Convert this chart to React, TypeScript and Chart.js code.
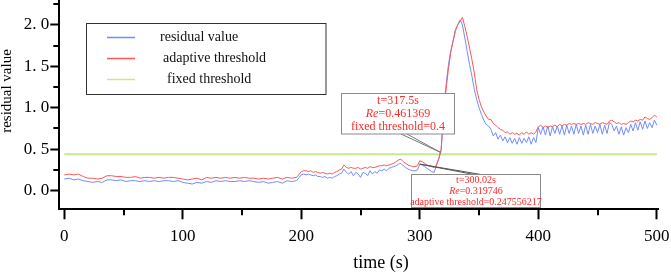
import React, { useEffect, useRef } from "react";
import { Chart, registerables } from "chart.js";

Chart.register(...registerables);

// ---- data (time in s) ----
const times = [
  0, 4, 8, 12, 16, 20, 24, 28, 32, 36,
  40, 44, 48, 52, 56, 60, 64, 68, 72, 76,
  80, 84, 88, 92, 96, 100, 104, 108, 112, 116,
  120, 124, 128, 132, 136, 140, 144, 148, 152, 156,
  160, 164, 168, 172, 176, 180, 184, 188, 192, 196,
  200, 202, 204, 206, 208, 210, 212, 214, 216, 218,
  220, 222, 224, 226, 228, 230, 232, 234, 236, 238,
  240, 242, 244, 246, 248, 250, 252, 254, 256, 258,
  260, 262, 264, 266, 268, 270, 272, 274, 276, 278,
  280, 282, 284, 286, 288, 290, 292, 294, 296, 298,
  300, 302, 304, 306, 308, 310, 312, 314, 316, 318,
  320, 322, 324, 326, 328, 330, 332, 334, 336, 338,
  340, 342, 344, 346, 348, 350, 352, 354, 356, 358,
  360, 362, 364, 366, 368, 370, 372, 374, 376, 378,
  380, 382, 384, 386, 388, 390, 392, 394, 396, 398,
  400, 402, 404, 406, 408, 410, 412, 414, 416, 418,
  420, 422, 424, 426, 428, 430, 432, 434, 436, 438,
  440, 442, 444, 446, 448, 450, 452, 454, 456, 458,
  460, 462, 464, 466, 468, 470, 472, 474, 476, 478,
  480, 482, 484, 486, 488, 490, 492, 494, 496, 498,
  500,
];

const residual = [
  0.14, 0.15, 0.13, 0.14, 0.12, 0.11, 0.10, 0.11, 0.10, 0.13,
  0.13, 0.12, 0.13, 0.11, 0.12, 0.12, 0.11, 0.12, 0.11, 0.12,
  0.11, 0.12, 0.12, 0.11, 0.12, 0.10, 0.09, 0.08, 0.10, 0.09,
  0.11, 0.10, 0.12, 0.11, 0.12, 0.11, 0.11, 0.12, 0.11, 0.12,
  0.11, 0.10, 0.11, 0.09, 0.10, 0.11, 0.09, 0.12, 0.11, 0.12,
  0.19, 0.20, 0.19, 0.20, 0.19, 0.18, 0.19, 0.17, 0.17, 0.16,
  0.17, 0.15, 0.16, 0.15, 0.17, 0.18, 0.20, 0.21, 0.26, 0.22,
  0.20, 0.23, 0.18, 0.22, 0.20, 0.16, 0.22, 0.21, 0.18, 0.24,
  0.20, 0.23, 0.21, 0.25, 0.24, 0.26, 0.24, 0.27, 0.28, 0.29,
  0.30, 0.32, 0.33, 0.30, 0.28, 0.26, 0.25, 0.24, 0.24, 0.25,
  0.32, 0.31, 0.29, 0.27, 0.25, 0.23, 0.22, 0.30, 0.38, 0.48,
  0.92, 1.25, 1.50, 1.68, 1.80, 1.92, 2.00, 2.06, 2.00, 1.84,
  1.68, 1.52, 1.38, 1.22, 1.10, 1.00, 0.92, 0.85, 0.80, 0.78,
  0.74, 0.66, 0.70, 0.62, 0.67, 0.60, 0.65, 0.58, 0.64, 0.57,
  0.63, 0.56, 0.64, 0.57, 0.63, 0.58, 0.65, 0.56, 0.64, 0.58,
  0.76, 0.68, 0.77, 0.67, 0.78, 0.66, 0.77, 0.69, 0.78, 0.68,
  0.78, 0.67, 0.79, 0.69, 0.78, 0.68, 0.80, 0.69, 0.78, 0.67,
  0.79, 0.68, 0.80, 0.69, 0.78, 0.70, 0.80, 0.68, 0.79, 0.69,
  0.82, 0.80, 0.72, 0.78, 0.68, 0.77, 0.67, 0.76, 0.70, 0.80,
  0.72, 0.82, 0.73, 0.83, 0.74, 0.84, 0.75, 0.82, 0.76, 0.85,
  0.79,
];

const adaptive = [
  0.19, 0.20, 0.19, 0.20, 0.17, 0.15, 0.15, 0.14, 0.15, 0.18,
  0.18, 0.17, 0.17, 0.16, 0.16, 0.17, 0.15, 0.16, 0.16, 0.15,
  0.16, 0.15, 0.16, 0.16, 0.15, 0.14, 0.13, 0.14, 0.15, 0.13,
  0.16, 0.15, 0.16, 0.15, 0.16, 0.15, 0.16, 0.15, 0.16, 0.15,
  0.15, 0.14, 0.15, 0.14, 0.15, 0.16, 0.14, 0.16, 0.15, 0.16,
  0.23, 0.24, 0.24, 0.23, 0.24, 0.22, 0.23, 0.22, 0.21, 0.22,
  0.21, 0.20, 0.21, 0.20, 0.22, 0.23, 0.25, 0.26, 0.31, 0.28,
  0.27, 0.28, 0.27, 0.27, 0.28, 0.26, 0.27, 0.28, 0.27, 0.29,
  0.28, 0.28, 0.29, 0.30, 0.30, 0.31, 0.30, 0.31, 0.32, 0.33,
  0.35, 0.37, 0.38, 0.35, 0.33, 0.31, 0.30, 0.29, 0.29, 0.30,
  0.36, 0.35, 0.33, 0.31, 0.30, 0.29, 0.28, 0.31, 0.39, 0.50,
  0.90, 1.20, 1.45, 1.66, 1.80, 1.94, 2.00, 2.04, 2.09, 1.98,
  1.86, 1.72, 1.58, 1.42, 1.22, 1.10, 1.01, 0.95, 0.90, 0.86,
  0.86, 0.81, 0.79, 0.76, 0.74, 0.73, 0.70, 0.71, 0.68, 0.70,
  0.68, 0.69, 0.67, 0.70, 0.68, 0.71, 0.68, 0.70, 0.68, 0.71,
  0.77, 0.79, 0.76, 0.78, 0.76, 0.78, 0.77, 0.79, 0.77, 0.80,
  0.78, 0.80, 0.79, 0.81, 0.80, 0.81, 0.80, 0.81, 0.80, 0.81,
  0.80, 0.82, 0.81, 0.80, 0.82, 0.81, 0.80, 0.82, 0.81, 0.80,
  0.84, 0.85, 0.83, 0.81, 0.82, 0.80, 0.81, 0.80, 0.82, 0.84,
  0.83, 0.85, 0.84, 0.86, 0.85, 0.89, 0.87, 0.86, 0.88, 0.91,
  0.89,
];

const fixedTimes = [0, 500];
const fixedValues = [0.44, 0.44];

const xMajorTicks = [0, 100, 200, 300, 400, 500];
const xMinorTicks = [50, 150, 250, 350, 450];
const yMajorTicks = [0, 0.5, 1, 1.5, 2];
const yMinorTicks = [0.25, 0.75, 1.25, 1.75, 2.25];

const seriesNames = ["residual value", "adaptive threshold", "fixed threshold"];
const xTitle = "time (s)";
const yTitle = "residual value";

// annotation 1 (fixed threshold crossing)
const note1Point = { t: 317.5, v: 0.461369 };
const note1Lines = [
  [{ text: "t=317.5s", italic: false }],
  [{ text: "Re", italic: true }, { text: "=0.461369", italic: false }],
  [{ text: "fixed threshold=0.4", italic: false }],
];
// annotation 2 (adaptive threshold crossing)
const note2Point = { t: 300.02, v: 0.319746 };
const note2Lines = [
  [{ text: "t=300.02s", italic: false }],
  [{ text: "Re", italic: true }, { text: "=0.319746", italic: false }],
  [{ text: "adaptive threshold=0.247556217", italic: false }],
];

const BLUE = "#6f8dff";
const RED = "#ff5656";
const GREEN = "#c6e88e";
const FONT = "'Liberation Serif', 'Times New Roman', serif";

type Seg = { text: string; italic: boolean };

function drawRichLine(ctx: CanvasRenderingContext2D, segs: Seg[], cx: number, cy: number, size: number) {
  let total = 0;
  const widths = segs.map((s) => {
    ctx.font = `${s.italic ? "italic " : ""}${size}px ${FONT}`;
    const w = ctx.measureText(s.text).width;
    total += w;
    return w;
  });
  let x = cx - total / 2;
  ctx.textAlign = "left";
  ctx.textBaseline = "middle";
  segs.forEach((s, i) => {
    ctx.font = `${s.italic ? "italic " : ""}${size}px ${FONT}`;
    ctx.fillText(s.text, x, cy);
    x += widths[i];
  });
}

const overlay = {
  id: "overlay",
  afterDraw(chart: any) {
    const ctx: CanvasRenderingContext2D = chart.ctx;
    const xs = chart.scales.x;
    const ys = chart.scales.y;
    const area = chart.chartArea;
    ctx.save();

    // minor ticks
    ctx.strokeStyle = "#000";
    ctx.lineWidth = 2;
    xMinorTicks.forEach((v) => {
      const px = Math.round(xs.getPixelForValue(v));
      ctx.beginPath();
      ctx.moveTo(px, area.bottom);
      ctx.lineTo(px, area.bottom + 6);
      ctx.stroke();
    });
    yMinorTicks.forEach((v) => {
      const py = Math.round(ys.getPixelForValue(v));
      ctx.beginPath();
      ctx.moveTo(area.left, py);
      ctx.lineTo(area.left - 6, py);
      ctx.stroke();
    });

    // legend
    ctx.lineWidth = 1;
    ctx.strokeStyle = "#333";
    ctx.strokeRect(86.5, 23.5, 239.5, 71);
    const legendColors = [BLUE, RED, GREEN];
    const legendY = [37.5, 58.5, 79.5];
    const legendTextX = [160, 163, 167];
    ctx.font = `14px ${FONT}`;
    ctx.textBaseline = "middle";
    ctx.textAlign = "left";
    seriesNames.forEach((name, i) => {
      ctx.strokeStyle = legendColors[i];
      ctx.lineWidth = 1.5;
      ctx.beginPath();
      ctx.moveTo(107, legendY[i]);
      ctx.lineTo(135, legendY[i]);
      ctx.stroke();
      ctx.fillStyle = "#111";
      ctx.fillText(name, legendTextX[i], legendY[i]);
    });

    // annotation 1
    const t1x = xs.getPixelForValue(note1Point.t);
    const t1y = ys.getPixelForValue(note1Point.v);
    ctx.strokeStyle = "#777";
    ctx.lineWidth = 1;
    ctx.beginPath();
    ctx.moveTo(401, 134);
    ctx.lineTo(t1x, t1y);
    ctx.moveTo(407, 134);
    ctx.lineTo(t1x, t1y);
    ctx.stroke();
    ctx.fillStyle = "#fff";
    ctx.fillRect(341.5, 93.5, 113, 40.5);
    ctx.strokeStyle = "#8a8a8a";
    ctx.strokeRect(341.5, 93.5, 113, 40.5);
    ctx.fillStyle = "#ff2a2a";
    const n1y = [101, 113.5, 126.5];
    note1Lines.forEach((segs, i) => drawRichLine(ctx, segs as Seg[], 398, n1y[i], 12));

    // annotation 2
    const t2x = xs.getPixelForValue(note2Point.t);
    const t2y = ys.getPixelForValue(note2Point.v);
    ctx.strokeStyle = "#555";
    ctx.beginPath();
    ctx.moveTo(t2x, t2y);
    ctx.lineTo(474, 174.5);
    ctx.moveTo(t2x, t2y);
    ctx.lineTo(481, 174.5);
    ctx.stroke();
    ctx.fillStyle = "#fff";
    ctx.fillRect(411.5, 174.5, 129, 33);
    ctx.strokeStyle = "#8a8a8a";
    ctx.strokeRect(411.5, 174.5, 129, 33);
    ctx.fillStyle = "#ff2a2a";
    const n2y = [180.5, 191.5, 202.5];
    note2Lines.forEach((segs, i) => drawRichLine(ctx, segs as Seg[], 476, n2y[i], 10));

    // axis titles
    ctx.fillStyle = "#000";
    ctx.font = `18px ${FONT}`;
    ctx.textAlign = "center";
    ctx.textBaseline = "middle";
    ctx.fillText(xTitle, 381, 263);
    ctx.save();
    ctx.translate(7, 91);
    ctx.rotate(-Math.PI / 2);
    ctx.font = `15px ${FONT}`;
    ctx.fillText(yTitle, 0, 0);
    ctx.restore();

    ctx.restore();
  },
};

export default function App() {
  const canvasRef = useRef<HTMLCanvasElement>(null);

  useEffect(() => {
    const canvas = canvasRef.current;
    if (!canvas) return;
    const chart = new Chart(canvas, {
      type: "line",
      data: {
        datasets: [
          {
            label: seriesNames[1],
            data: times.map((t, i) => ({ x: t, y: adaptive[i] })),
            borderColor: RED,
            borderWidth: 1,
            pointRadius: 0,
            tension: 0,
          },
          {
            label: seriesNames[0],
            data: times.map((t, i) => ({ x: t, y: residual[i] })),
            borderColor: BLUE,
            borderWidth: 1,
            pointRadius: 0,
            tension: 0,
          },
          {
            label: seriesNames[2],
            data: fixedTimes.map((t, i) => ({ x: t, y: fixedValues[i] })),
            borderColor: GREEN,
            borderWidth: 2,
            pointRadius: 0,
          },
        ],
      },
      options: {
        responsive: false,
        animation: false,
        devicePixelRatio: 1,
        layout: { padding: { left: 0, right: 13, top: 0, bottom: 0 } },
        plugins: {
          legend: { display: false },
          tooltip: { enabled: false },
          title: { display: false },
        },
        scales: {
          x: {
            type: "linear",
            min: -4.2,
            max: 501,
            afterBuildTicks: (s: any) => {
              s.ticks = xMajorTicks.map((v) => ({ value: v }));
            },
            afterFit: (s: any) => {
              s.height = 63.7;
              s.paddingLeft = 0;
              s.paddingRight = 0;
            },
            grid: {
              display: true,
              drawOnChartArea: false,
              drawTicks: true,
              tickLength: 10,
              tickWidth: 2,
              tickColor: "#000",
              color: "#000",
            },
            border: { display: true, color: "#000", width: 2 },
            ticks: {
              font: { family: FONT, size: 17 },
              color: "#000",
              padding: 7,
              maxRotation: 0,
              autoSkip: false,
              callback: (v: any) => String(v),
            },
          },
          y: {
            type: "linear",
            min: -0.225,
            max: 2.3,
            afterBuildTicks: (s: any) => {
              s.ticks = yMajorTicks.map((v) => ({ value: v }));
            },
            afterFit: (s: any) => {
              s.width = 59.3;
              s.paddingTop = 0;
              s.paddingBottom = 0;
            },
            grid: {
              display: true,
              drawOnChartArea: false,
              drawTicks: true,
              tickLength: 9,
              tickWidth: 2,
              tickColor: "#000",
              color: "#000",
            },
            border: { display: true, color: "#000", width: 2 },
            ticks: {
              font: { family: FONT, size: 17 },
              color: "#000",
              padding: 1,
              callback: (v: any) => Number(v).toFixed(1).replace(".", ". "),
            },
          },
        },
      },
      plugins: [overlay],
    } as any);
    return () => chart.destroy();
  }, []);

  return (
    <div style={{ position: "absolute", left: 0, top: 0, width: 671, height: 273, background: "#fff" }}>
      <canvas ref={canvasRef} width={671} height={273} style={{ display: "block" }} />
    </div>
  );
}
